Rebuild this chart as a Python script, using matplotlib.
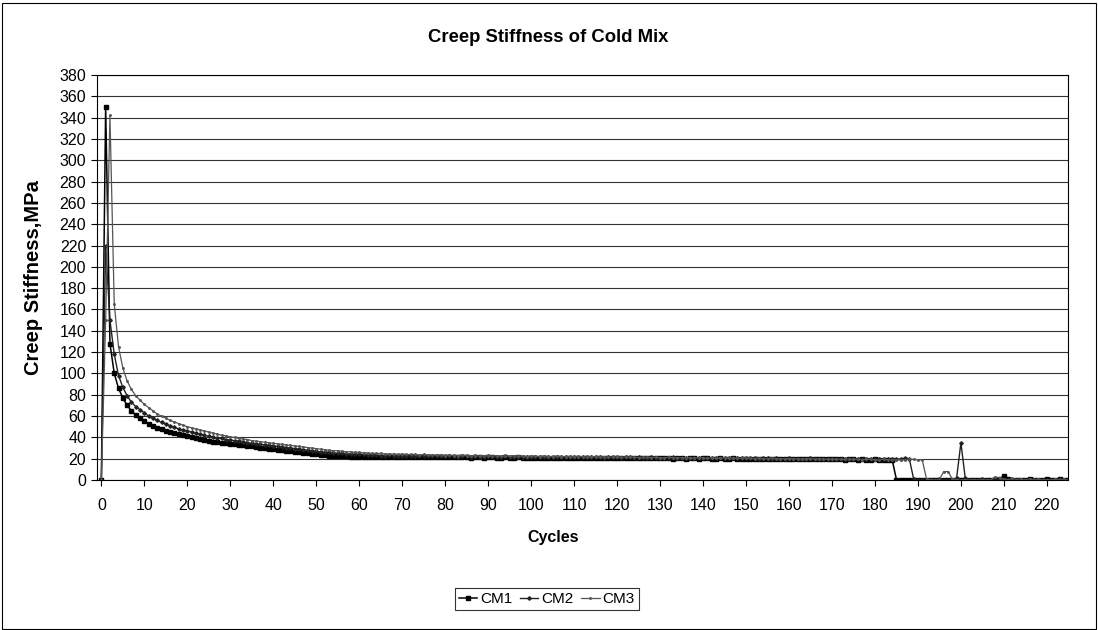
import matplotlib
matplotlib.use('Agg')
import matplotlib.pyplot as plt
import numpy as np

plt.rcParams['font.family'] = ['Liberation Sans', 'DejaVu Sans']

# creep stiffness (MPa) per load cycle
cm1 = [0, 350, 128, 100, 86, 77, 70, 65, 61, 58, 55,
       53, 51, 49, 47.5, 46, 45, 44, 43, 42, 41,
       40, 39, 38.5, 37.5, 37, 36, 35.5, 35, 34.5, 34,
       33.5, 33, 32.5, 32, 31.5, 31, 30.5, 30, 29.5, 29,
       28.5, 28, 27.5, 27, 26.5, 26, 25.5, 25, 24.5, 24,
       23.5, 23.5, 23, 23, 22.5, 22.5, 22.5, 22, 22, 22,
       22, 22, 21.5, 22, 22, 21.5, 22, 22, 21.5, 22,
       22, 21.5, 21.5, 22, 22, 21.5, 21.5, 22, 21.5, 21.5,
       21.5, 22, 21.5, 21.5, 21.5, 21, 21.5, 21.5, 21, 21.5,
       21.5, 21, 21, 21.5, 21, 21, 21.5, 21, 21, 21,
       21, 21, 20.5, 21, 21, 20.5, 21, 21, 20.5, 21,
       21, 20.5, 20.5, 21, 20.5, 20.5, 21, 20.5, 20.5, 20.5,
       20.5, 21, 20.5, 20.5, 20.5, 20.5, 21, 20.5, 20.5, 20.5,
       20.5, 20.5, 20, 20.5, 20.5, 20, 20.5, 20.5, 20, 20.5,
       20.5, 20, 20, 20.5, 20, 20, 20.5, 20, 20, 20,
       20, 20, 20, 19.5, 20, 20, 19.5, 20, 20, 19.5,
       20, 19.5, 19.5, 20, 19.5, 19.5, 19.5, 19.5, 19.5, 19.5,
       19.5, 19.5, 19, 19.5, 19.5, 19, 19.5, 19, 19, 19.5,
       19, 19, 19, 19,
       0.5, 0, 0.5, 0, 0.5, 0, 0.5, 0, 0, 0.5,
       0, 0.5, 0, 0, 0.5, 0, 0.5, 0, 0, 0.5,
       0, 0.5, 0, 0.5, 1, 4, 1, 0.5, 0, 0.5,
       0, 1, 0.5, 0, 0.5, 1, 0.5, 0, 1, 0.5, 0]

cm2 = [0, 220, 150, 118, 98, 87, 79, 73, 69, 66, 63,
       60, 58, 56, 54, 52.5, 51, 49.5, 48, 47, 46,
       45, 44, 43, 42, 41, 40, 39.5, 39, 38, 37.5,
       37, 36.5, 36, 35, 34.5, 34, 33.5, 33, 32.5, 32,
       31.5, 31, 30.5, 30, 29.5, 29, 28.5, 28, 27.5, 27,
       26.5, 26, 26, 25.5, 25, 25, 24.5, 24.5, 24, 24,
       24, 23.5, 23.5, 23.5, 23, 23, 23.5, 23, 23, 23,
       23, 22.5, 23, 23, 22.5, 22.5, 23, 22.5, 22.5, 22.5,
       22.5, 22.5, 22, 22.5, 22.5, 22, 22.5, 22, 22, 22.5,
       22, 22, 22, 22.5, 22, 22, 21.5, 22, 22, 22,
       21.5, 22, 22, 21.5, 22, 21.5, 21.5, 22, 21.5, 21.5,
       21.5, 21.5, 22, 21.5, 21.5, 21.5, 21, 21.5, 21.5, 21.5,
       21, 21.5, 21.5, 21, 21.5, 21, 21, 21.5, 21, 21,
       21, 21, 21.5, 21, 21, 21, 20.5, 21, 21, 20.5,
       21, 20.5, 21, 20.5, 20.5, 21, 20.5, 20.5, 20.5, 20.5,
       20.5, 20.5, 20, 20.5, 20.5, 20, 20.5, 20, 20, 20.5,
       20, 20, 20, 20, 20.5, 20, 20, 19.5, 20, 20,
       20, 19.5, 20, 19.5, 19.5, 20, 19.5, 19.5, 19.5, 19.5,
       19.5, 19.5, 19.5, 19.5, 19.5, 20, 20.5, 20,
       1, 0.5, 0, 0.5, 0, 0.5, 1, 0.5, 0, 0.5,
       2, 35, 2, 0.5, 0, 0.5, 1, 0.5, 0, 0.5,
       0.5, 0, 0.5, 0, 0.5, 0, 0.5, 0, 0.5, 0,
       0.5, 0, 0.5, 0, 1, 0.5, 0]

cm3 = [0, 150, 342, 165, 125, 105, 93, 85, 79, 75, 71,
       68, 65, 62, 60, 58, 56, 54.5, 53, 51.5, 50,
       49, 48, 47, 46, 45, 44, 43, 42, 41.5, 40.5,
       40, 39, 38.5, 38, 37, 36.5, 36, 35.5, 35, 34.5,
       34, 33.5, 33, 32.5, 32, 31.5, 31, 30.5, 30, 29.5,
       29, 28.5, 28, 27.5, 27.5, 27, 26.5, 26.5, 26, 26,
       25.5, 25.5, 25, 25, 25, 24.5, 24.5, 24.5, 24, 24.5,
       24, 24, 24, 23.5, 24, 23.5, 23.5, 23.5, 23.5, 23,
       23.5, 23, 23, 23.5, 23, 23, 23, 22.5, 23, 23,
       22.5, 23, 22.5, 22.5, 22.5, 23, 22.5, 22.5, 22, 22.5,
       22.5, 22, 22.5, 22, 22, 22.5, 22, 22, 22, 22,
       22, 22, 21.5, 22, 22, 21.5, 22, 21.5, 21.5, 22,
       21.5, 21.5, 21.5, 21.5, 21, 21.5, 21.5, 21, 21.5, 21,
       21, 21.5, 21, 21, 21, 21, 21, 20.5, 21, 21,
       20.5, 21, 20.5, 20.5, 21, 20.5, 20.5, 20.5, 20.5, 20.5,
       20.5, 20, 20.5, 20, 20, 20.5, 20, 20, 20, 20,
       20, 20, 19.5, 20, 20, 19.5, 20, 19.5, 19.5, 19.5,
       19.5, 19.5, 19.5, 19.5, 19.5, 19.5, 19, 19.5, 19.5, 19,
       19, 19.5, 19, 19, 19, 19, 19, 19.5, 19.5, 19, 19,
       1, 0.5, 0, 0.5, 8, 8, 1, 0.5, 0, 0.5,
       0, 0.5, 0, 0.5, 0, 0.5, 3, 2, 1, 0.5,
       1.5, 0.5, 1, 0, 1, 0.5, 1, 0, 0.5, 0,
       1, 0.5, 1, 0]

labels = ['CM1', 'CM2', 'CM3']
yticks = np.arange(0, 381, 20)
xticks = np.arange(0, 221, 10)

fig = plt.figure(figsize=(10.98, 6.3), dpi=100)
fig.set_facecolor('w')
ax = fig.add_axes([0.088, 0.238, 0.885, 0.643])

ax.plot(np.arange(len(cm1)), cm1, '-s', color='k', lw=1.1, ms=3.0, label=labels[0])
ax.plot(np.arange(len(cm2)), cm2, '-', color='#222222', lw=1.0, marker='D', ms=1.8, label=labels[1])
ax.plot(np.arange(len(cm3)), cm3, '-', color='#555555', lw=0.9, marker='.', ms=2.2, label=labels[2])

ax.set_xlim(-1.1, 225)
ax.set_ylim(0, 380)
ax.set_yticks(yticks)
ax.set_xticks(xticks)
ax.yaxis.grid(True, color='#333333', lw=0.8)
ax.set_axisbelow(True)
ax.tick_params(labelsize=11.5, direction='out', length=4, color='k')
ax.tick_params(axis='x', pad=9)
for s in ax.spines.values():
    s.set_color('k')
    s.set_linewidth(0.8)

ax.set_xlabel('Cycles', fontsize=11.5, fontweight='bold')
ax.xaxis.set_label_coords(0.47, -0.123)
ax.set_ylabel('Creep Stiffness,MPa', fontsize=14.5, fontweight='bold')
ax.yaxis.set_label_coords(-0.055, 0.5)
fig.text(0.499, 0.94, 'Creep Stiffness of Cold Mix', ha='center', va='center',
         fontsize=13.3, fontweight='bold')

leg = fig.legend(loc='center', bbox_to_anchor=(0.498, 0.049), ncol=3, fontsize=11,
                 frameon=True, fancybox=False, handlelength=1.2, columnspacing=0.5,
                 borderpad=0.25, handletextpad=0.2, borderaxespad=0)
leg.get_frame().set_edgecolor('k')
leg.get_frame().set_linewidth(0.8)

# outer frame of the chart
fig.patches.append(plt.Rectangle((0.002, 0.002), 0.996, 0.994, transform=fig.transFigure,
                                 fill=False, edgecolor='k', lw=0.8))

fig.savefig('out.png', dpi=100)
